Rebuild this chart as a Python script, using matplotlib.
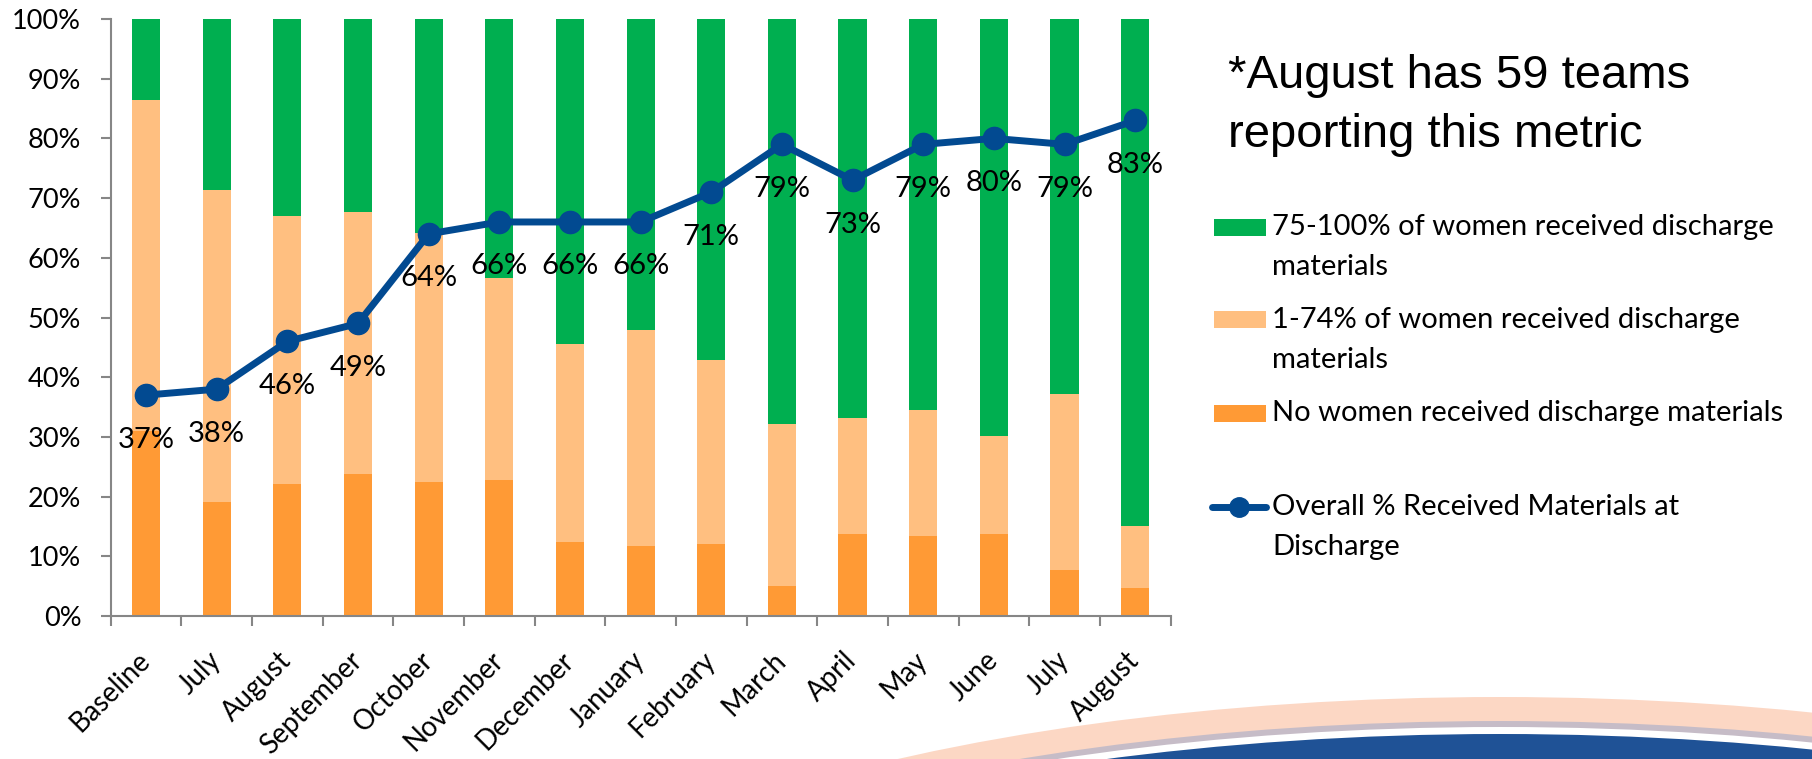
import numpy as np
import matplotlib
matplotlib.use("Agg")
import matplotlib.pyplot as plt
from matplotlib.patches import Ellipse, Rectangle
from matplotlib.lines import Line2D
from matplotlib.ticker import FuncFormatter

months = ["Baseline", "July", "August", "September", "October", "November",
          "December", "January", "February", "March", "April", "May", "June",
          "July", "August"]

# stacked shares (percent of teams)
no_women = [31.0, 19.1, 22.1, 23.8, 22.4, 22.8, 12.4, 11.7, 12.1, 5.0, 13.7, 13.4, 13.7, 7.7, 4.7]
some_women = [55.4, 52.3, 44.9, 43.9, 41.8, 33.8, 33.2, 36.2, 30.8, 27.2, 19.5, 21.1, 16.5, 29.5, 10.4]
most_women = [13.6, 28.6, 33.0, 32.3, 35.8, 43.4, 54.4, 52.1, 57.1, 67.8, 66.8, 65.5, 69.8, 62.8, 84.9]

overall = [37, 38, 46, 49, 64, 66, 66, 66, 71, 79, 73, 79, 80, 79, 83]

labels_legend = ["75-100% of women received discharge\nmaterials",
                 "1-74% of women received discharge\nmaterials",
                 "No women received discharge materials",
                 "Overall % Received Materials at\nDischarge"]

GREEN = "#00AF50"
LIGHT = "#FFBF80"
DARK = "#FF9A35"
BLUE = "#024A91"
GRAY = "#868686"

W, H = 1812, 759
fig = plt.figure(figsize=(W / 100, H / 100), dpi=100)
plt.rcParams['font.family'] = ['Lato', 'DejaVu Sans']


def fx(px):
    return px / W


def fy(py):
    return 1 - py / H


# --- decorative swoosh at the bottom right (pixel coords) ---
idt = matplotlib.transforms.IdentityTransform()
for top, color, alpha in [(697, "#FCD3BE", 0.9), (721, "#B9B6C8", 0.8),
                          (727, "#FFFFFF", 1.0), (734, "#1F5296", 1.0)]:
    b = 350
    e = Ellipse((1500, H - (top + b)), 2 * 1060, 2 * b, transform=idt,
                facecolor=color, edgecolor="none", alpha=alpha, zorder=0)
    fig.add_artist(e)

ax = fig.add_axes([fx(110.7), fy(616), fx(1170.6 - 110.7), (616 - 19) / H])
ax.set_zorder(2)
ax.patch.set_alpha(0)

x = np.arange(len(months))
no = np.array(no_women) / 100
some = np.array(some_women) / 100
most = np.array(most_women) / 100
bw = 0.40
ax.bar(x, no, bw, color=DARK, zorder=2)
ax.bar(x, some, bw, bottom=no, color=LIGHT, zorder=2)
ax.bar(x, most, bw, bottom=no + some, color=GREEN, zorder=2)

ov = np.array(overall) / 100
ax.plot(x, ov, color=BLUE, lw=5, marker="o", ms=16, zorder=3)
for xi, v in zip(x, overall):
    ax.annotate(f"{v}%", (xi, v / 100), xytext=(0, -32), textcoords="offset points",
                ha="center", va="center", fontsize=21, color="black", zorder=4)

ax.set_xlim(-0.5, len(months) - 0.5)
ax.set_ylim(0, 1)
ax.set_yticks(np.arange(0, 1.01, 0.1))
ax.yaxis.set_major_formatter(FuncFormatter(lambda v, p: f"{v * 100:.0f}%"))
ax.tick_params(axis="y", direction="out", length=7.2, width=1.5, color=GRAY,
               labelsize=19.5, pad=14)
ax.set_xticks(x)
ax.set_xticklabels(months, rotation=45, ha="right", rotation_mode="anchor", va="center")
ax.set_xticks(np.arange(-0.5, len(months), 1), minor=True)
ax.tick_params(axis="x", which="major", length=0, labelsize=19.8, pad=29)
ax.tick_params(axis="x", which="minor", direction="out", length=7.2, width=1.5, color=GRAY)
for s in ["top", "right"]:
    ax.spines[s].set_visible(False)
for s in ["left", "bottom"]:
    ax.spines[s].set_color(GRAY)
    ax.spines[s].set_linewidth(1.5)

# --- note ---
fig.text(fx(1228), fy(88), "*August has 59 teams", fontsize=34, family="Liberation Sans",
         va="baseline", ha="left")
fig.text(fx(1228), fy(147), "reporting this metric", fontsize=34, family="Liberation Sans",
         va="baseline", ha="left")

# --- legend, drawn Excel style ---
handle_y = [227, 320, 413, 507]
swatch = [GREEN, LIGHT, DARK, None]
for lab, hy, col in zip(labels_legend, handle_y, swatch):
    if col is not None:
        fig.add_artist(Rectangle((fx(1214), fy(hy + 8.5)), fx(52), 17 / H,
                                 transform=fig.transFigure, facecolor=col, edgecolor="none"))
    else:
        fig.add_artist(Line2D([fx(1212), fx(1266)], [fy(hy), fy(hy)], transform=fig.transFigure,
                              color=BLUE, lw=5, solid_capstyle="round"))
        fig.add_artist(Line2D([fx(1239)], [fy(hy)], transform=fig.transFigure, color=BLUE,
                              marker="o", ms=14))
    for k, line in enumerate(lab.split("\n")):
        fig.text(fx(1272), fy(hy + k * 40), line, fontsize=21, va="center", ha="left")

fig.savefig("out.png", dpi=100)
